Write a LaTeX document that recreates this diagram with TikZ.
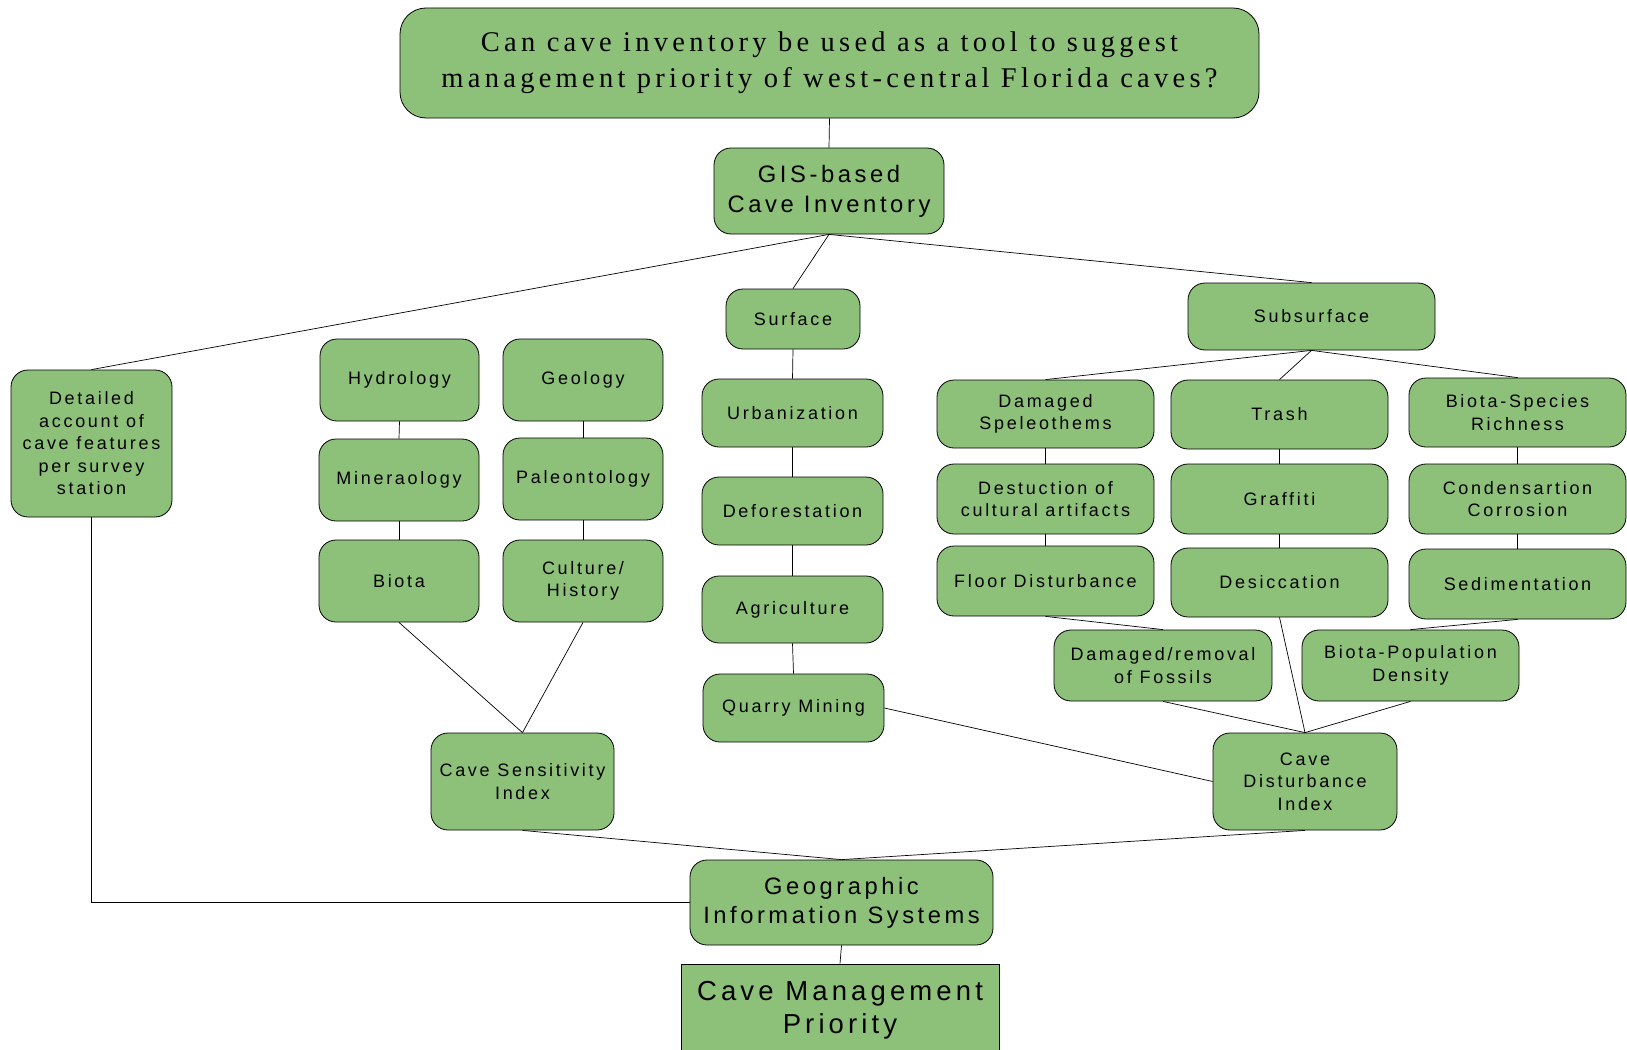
\documentclass[tikz,border=0pt]{standalone}
\usepackage{fontspec}
\newfontfamily\lblfont[LetterSpace=15]{Liberation Sans}
\newfontfamily\ttlfont[LetterSpace=15]{Liberation Serif}
\definecolor{cavegreen}{RGB}{141,193,122}
\begin{document}
\begin{tikzpicture}[x=1pt,y=-1pt,
  box/.style={draw=black, line width=0.8pt, fill=cavegreen, rounded corners=17pt, align=center, inner sep=0pt, font=\lblfont\fontsize{18}{22.5}\selectfont},
  conn/.style={draw=black, line width=0.7pt}]
\useasboundingbox (0,0) rectangle (1627,1049);
% title
\node[box, rounded corners=26pt, minimum width=859pt, minimum height=110pt, font=\ttlfont\fontsize{28.5}{36}\selectfont] (q) at (829.5,63) {Can cave inventory be used as a tool to suggest\\management priority of west-central Florida caves?};
\node[box, minimum width=230pt, minimum height=86pt, font=\lblfont\fontsize{23.8}{30}\selectfont] (gisb) at (829,191) {GIS-based\\Cave Inventory};
\node[box, minimum width=134pt, minimum height=60pt] (surf) at (793,319) {Surface};
\node[box, minimum width=247pt, minimum height=67pt] (sub) at (1311.5,316.5) {Subsurface};
\node[box, minimum width=161pt, minimum height=147pt] (det) at (91.5,443.5) {Detailed\\account of\\cave features\\per survey\\station};
\node[box, minimum width=159pt, minimum height=82pt] (hyd) at (399.5,380) {Hydrology};
\node[box, minimum width=160pt, minimum height=82pt] (geo) at (583,380) {Geology};
\node[box, minimum width=160pt, minimum height=82pt] (min) at (399,480) {Mineraology};
\node[box, minimum width=160pt, minimum height=82pt] (pal) at (583,479) {Paleontology};
\node[box, minimum width=160pt, minimum height=82pt] (bio) at (399,581) {Biota};
\node[box, minimum width=160pt, minimum height=82pt] (cul) at (583,581) {Culture/\\History};
\node[box, minimum width=181pt, minimum height=68pt] (urb) at (792.5,413) {Urbanization};
\node[box, minimum width=181pt, minimum height=68pt] (def) at (792.5,511) {Deforestation};
\node[box, minimum width=181pt, minimum height=67pt] (agr) at (792.5,609.5) {Agriculture};
\node[box, minimum width=181pt, minimum height=68pt] (qua) at (793.5,708) {Quarry Mining};
\node[box, minimum width=217pt, minimum height=68pt] (spe) at (1045.5,414) {Damaged\\Speleothems};
\node[box, minimum width=217pt, minimum height=69pt] (tra) at (1279.5,414.5) {Trash};
\node[box, minimum width=217pt, minimum height=69pt] (bsr) at (1517.5,412.5) {Biota-Species\\Richness};
\node[box, minimum width=217pt, minimum height=70pt] (des) at (1045.5,499) {Destuction of\\cultural artifacts};
\node[box, minimum width=217pt, minimum height=70pt] (gra) at (1279.5,499) {Graffiti};
\node[box, minimum width=217pt, minimum height=70pt] (con) at (1517.5,499) {Condensartion\\Corrosion};
\node[box, minimum width=217pt, minimum height=70pt] (flo) at (1045.5,581) {Floor Disturbance};
\node[box, minimum width=217pt, minimum height=69pt] (dsc) at (1279.5,582.5) {Desiccation};
\node[box, minimum width=217pt, minimum height=70pt] (sed) at (1517.5,584) {Sedimentation};
\node[box, minimum width=218pt, minimum height=71pt] (rem) at (1163,665.5) {Damaged/removal\\of Fossils};
\node[box, minimum width=217pt, minimum height=71pt] (bpd) at (1410.5,665.5) {Biota-Population\\Density};
\node[box, minimum width=183pt, minimum height=97pt] (csi) at (522.5,781.5) {Cave Sensitivity\\Index};
\node[box, minimum width=184pt, minimum height=97pt] (cdi) at (1305,781.5) {Cave\\Disturbance\\Index};
\node[box, minimum width=303pt, minimum height=85pt, font=\lblfont\fontsize{23.7}{29}\selectfont] (gis) at (841.5,902.5) {Geographic\\Information Systems};
\node[box, rounded corners=0pt, minimum width=318pt, minimum height=92pt, font=\lblfont\fontsize{27.5}{33}\selectfont] (cmp) at (840,1010) {Cave Management\\Priority};
% connectors
\draw[conn] (q.south) -- (gisb.north);
\draw[conn] (gisb.south) -- (det.north);
\draw[conn] (gisb.south) -- (surf.north);
\draw[conn] (gisb.south) -- (sub.north);
\draw[conn] (surf.south) -- (urb.north);
\draw[conn] (urb.south) -- (def.north);
\draw[conn] (def.south) -- (agr.north);
\draw[conn] (agr.south) -- (qua.north);
\draw[conn] (hyd.south) -- (min.north);
\draw[conn] (min.south) -- (bio.north);
\draw[conn] (geo.south) -- (pal.north);
\draw[conn] (pal.south) -- (cul.north);
\draw[conn] (bio.south) -- (csi.north);
\draw[conn] (cul.south) -- (csi.north);
\draw[conn] (sub.south) -- (spe.north);
\draw[conn] (sub.south) -- (tra.north);
\draw[conn] (sub.south) -- (bsr.north);
\draw[conn] (spe.south) -- (des.north);
\draw[conn] (des.south) -- (flo.north);
\draw[conn] (tra.south) -- (gra.north);
\draw[conn] (gra.south) -- (dsc.north);
\draw[conn] (bsr.south) -- (con.north);
\draw[conn] (con.south) -- (sed.north);
\draw[conn] (flo.south) -- (rem.north);
\draw[conn] (sed.south) -- (bpd.north);
\draw[conn] (rem.south) -- (cdi.north);
\draw[conn] (dsc.south) -- (cdi.north);
\draw[conn] (bpd.south) -- (cdi.north);
\draw[conn] (qua.east) -- (cdi.west);
\draw[conn] (csi.south) -- (gis.north);
\draw[conn] (cdi.south) -- (gis.north);
\draw[conn] (det.south) |- (gis.west);
\draw[conn] (gis.south) -- (cmp.north);
\end{tikzpicture}
\end{document}
